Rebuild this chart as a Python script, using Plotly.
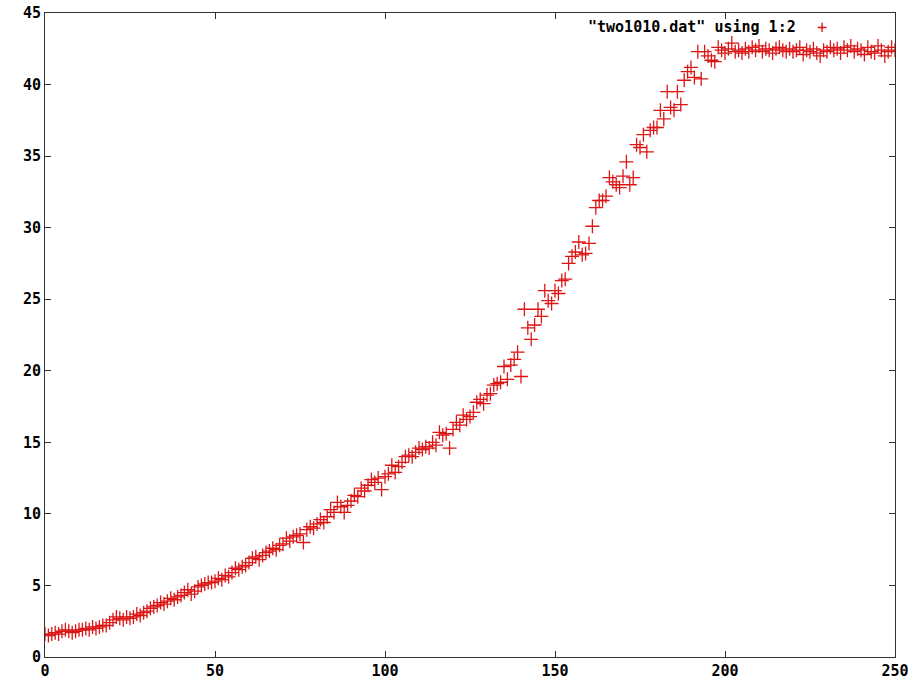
import plotly.graph_objects as go

x_values = list(range(0, 251))

y_values = [
    1.6, 1.5, 1.6, 1.7, 1.6, 1.8, 1.9, 1.8, 1.7, 1.8,
    1.9, 1.9, 2.0, 1.9, 2.1, 2.0, 2.1, 2.2, 2.2, 2.4,
    2.6, 2.8, 2.7, 2.6, 2.8, 2.7, 2.8, 3.0, 2.9, 3.1,
    3.2, 3.4, 3.5, 3.6, 3.8, 3.7, 3.9, 4.1, 4.0, 4.2,
    4.3, 4.5, 4.7, 4.4, 4.6, 4.9, 5.0, 5.1, 5.2, 5.2,
    5.3, 5.5, 5.4, 5.7, 5.6, 5.9, 6.2, 6.1, 6.3, 6.4,
    6.6, 6.9, 7.0, 6.8, 7.1, 7.3, 7.4, 7.6, 7.5, 7.8,
    7.9, 8.3, 8.1, 8.4, 8.5, 8.6, 8.0, 8.9, 9.1, 9.0,
    9.3, 9.6, 9.4, 9.8, 10.3, 10.1, 10.8, 10.5, 10.1, 10.6,
    10.9, 11.3, 11.2, 11.8, 11.6, 12.0, 12.4, 12.2, 12.5, 11.7,
    12.6, 12.8, 13.4, 12.9, 13.3, 13.6, 14.0, 14.1, 14.0, 14.3,
    14.6, 14.5, 14.7, 14.6, 15.0, 14.8, 15.7, 15.5, 15.6, 14.6,
    15.9, 16.4, 16.2, 16.9, 16.6, 16.8, 17.1, 17.8, 18.0, 17.7,
    18.3, 18.4, 19.0, 19.1, 19.2, 20.3, 19.4, 20.4, 20.8, 21.3,
    19.6, 24.3, 23.0, 22.2, 23.2, 24.3, 23.8, 25.6, 24.9, 24.7,
    25.6, 25.4, 26.3, 26.4, 27.5, 28.0, 28.3, 29.0, 28.1, 28.2,
    28.9, 30.1, 31.4, 31.9, 31.9, 32.2, 33.5, 33.2, 33.0, 32.8,
    33.6, 34.6, 33.0, 33.5, 35.8, 35.6, 36.5, 35.3, 36.8, 37.0,
    37.0, 38.2, 37.6, 39.5, 38.4, 38.2, 39.5, 38.6, 40.3, 40.9,
    41.2, 40.5, 42.3, 40.4, 42.3, 42.0, 41.7, 41.6, 42.6, 42.4,
    42.2, 42.5, 42.9, 42.3, 42.4, 42.2, 42.5, 42.3, 42.6, 42.4,
    42.7, 42.3, 42.5, 42.4, 42.2, 42.5, 42.6, 42.4, 42.3, 42.5,
    42.3, 42.4, 42.6, 42.1, 42.4, 42.3, 42.5, 42.2, 42.0, 42.4,
    42.3, 42.6, 42.4, 42.5, 42.2, 42.6, 42.4, 42.7, 42.3, 42.5,
    42.4, 42.1, 42.6, 42.3, 42.2, 42.7, 42.4, 42.0, 42.3, 42.6,
    42.4,
]

x_ticks = [0, 50, 100, 150, 200, 250]
y_ticks = [0, 5, 10, 15, 20, 25, 30, 35, 40, 45]
legend_label = '"two1010.dat" using 1:2'

RED = "#dc1414"
tick_font = dict(family="DejaVu Sans Mono", size=15, color="black", weight="bold")

fig = go.Figure()
fig.add_trace(go.Scatter(
    x=x_values, y=y_values, mode="markers",
    marker=dict(symbol="cross-thin", size=10, line=dict(color=RED, width=1.3), color=RED),
    showlegend=False,
))

axis_common = dict(
    showgrid=False, zeroline=False, showline=True, linecolor="#333333", linewidth=1,
    mirror="ticks", ticks="inside", ticklen=6, tickcolor="#333333", tickwidth=1,
    tickfont=tick_font, automargin=False,
)

fig.update_xaxes(range=[0, 250], tickvals=x_ticks, ticktext=[str(v) for v in x_ticks], **axis_common)
fig.update_yaxes(range=[0, 45], tickvals=y_ticks, ticktext=[str(v) for v in y_ticks], **axis_common)

fig.add_annotation(
    xref="paper", yref="paper", x=0.886, y=0.978, xanchor="right", yanchor="middle",
    text=legend_label, showarrow=False,
    font=dict(family="DejaVu Sans Mono", size=15, color="black", weight="bold"),
)
fig.add_annotation(
    xref="paper", yref="paper", x=0.914, y=0.978, xanchor="center", yanchor="middle",
    text="+", showarrow=False,
    font=dict(family="DejaVu Sans Mono", size=17, color=RED),
)

fig.update_layout(
    width=916, height=687, autosize=False,
    margin=dict(l=45, r=21, t=13, b=30, autoexpand=False),
    paper_bgcolor="white", plot_bgcolor="white",
)

fig.write_html(
    "out.html",
    config={"displayModeBar": False},
    post_script="document.body.style.margin='0';document.body.style.overflow='hidden';",
)
